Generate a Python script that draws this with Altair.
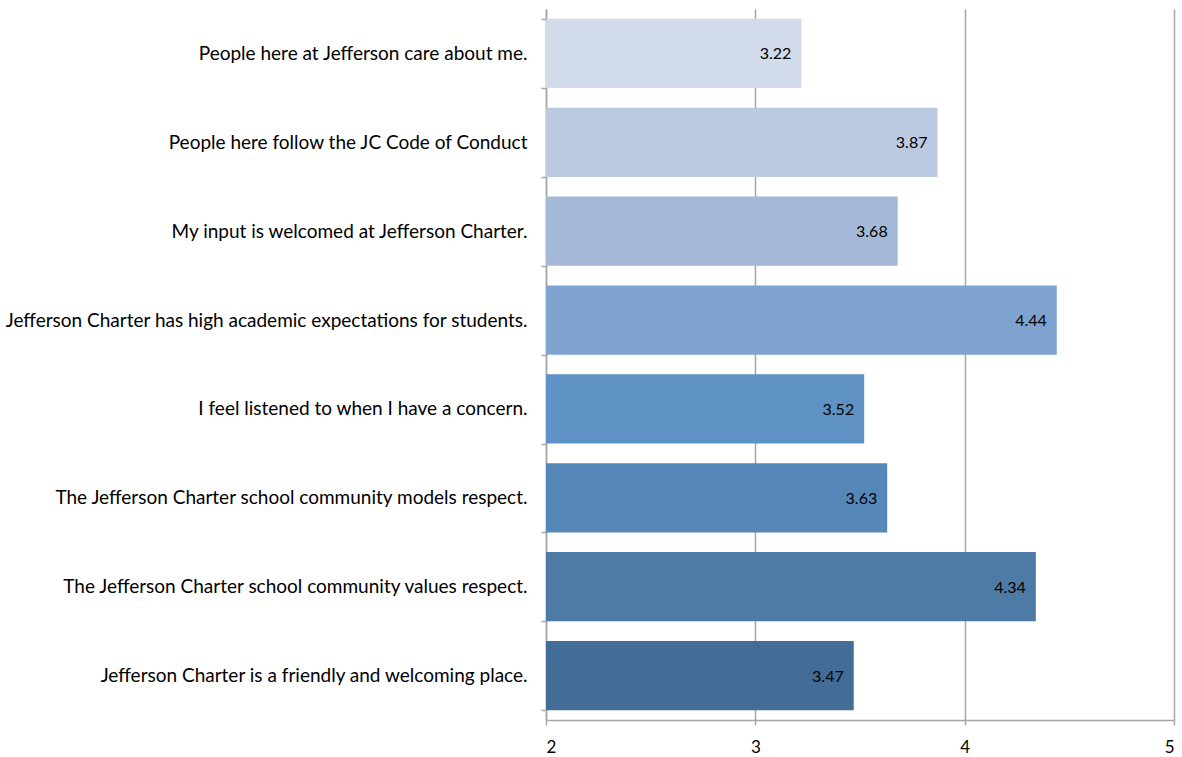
import altair as alt
import pandas as pd

categories = [
    "People here at Jefferson care about me.",
    "People here follow the JC Code of Conduct",
    "My input is welcomed at Jefferson Charter.",
    "Jefferson Charter has high academic expectations for students.",
    "I feel listened to when I have a concern.",
    "The Jefferson Charter school community models respect.",
    "The Jefferson Charter school community values respect.",
    "Jefferson Charter is a friendly and welcoming place.",
]
values = [3.22, 3.87, 3.68, 4.44, 3.52, 3.63, 4.34, 3.47]
colors = ["#D1DBE9", "#BBCAE1", "#A4B9D8", "#7EA3CF", "#5E91C4", "#5687B9", "#4E7AA6", "#436C97"]
x_ticks = [2, 3, 4, 5]
x_min = 2

df = pd.DataFrame({"cat": categories, "val": values, "label": [f"{v:.2f}" for v in values]})

FONT = "Lato"
GRID = "#A6A6A6"

y_enc = alt.Y(
    "cat:N",
    sort=categories,
    scale=alt.Scale(paddingInner=0.22, paddingOuter=0.11),
    axis=alt.Axis(
        title=None,
        tickBand="extent",
        tickSize=5,
        tickColor=GRID,
        tickWidth=1.5,
        domainColor=GRID,
        domainWidth=1.5,
        labelFont=FONT,
        labelFontSize=19,
        labelColor="#000000",
        labelPadding=14,
        labelLimit=700,
        grid=False,
    ),
)

x_enc = alt.X(
    "val:Q",
    scale=alt.Scale(domain=[2, 5], nice=False, zero=False),
    axis=alt.Axis(
        title=None,
        values=x_ticks,
        format="d",
        tickSize=5,
        tickColor=GRID,
        tickWidth=1.5,
        domainColor=GRID,
        domainWidth=1.5,
        grid=True,
        gridColor=GRID,
        gridWidth=1.5,
        labelFont=FONT,
        labelFontSize=17,
        labelColor="#000000",
        labelPadding=14,
    ),
)

bars = alt.Chart(df).mark_bar().encode(
    y=y_enc,
    x=x_enc,
    x2=alt.datum(x_min),
    color=alt.Color("cat:N", scale=alt.Scale(domain=categories, range=colors), legend=None),
)

text = alt.Chart(df).mark_text(align="right", baseline="middle", dx=-10, dy=1, font=FONT, fontSize=16, color="#000000").encode(
    y=alt.Y("cat:N", sort=categories),
    x=alt.X("val:Q"),
    text="label:N",
)

chart = alt.layer(bars, text).properties(
    width=628,
    height=711,
    padding={"left": 546, "top": 9, "right": 8, "bottom": 37},
    autosize=alt.AutoSizeParams(type="none"),
    background="#FFFFFF",
).configure_view(stroke=None)

chart.save("out.html", embed_options={"renderer": "svg", "actions": False})
